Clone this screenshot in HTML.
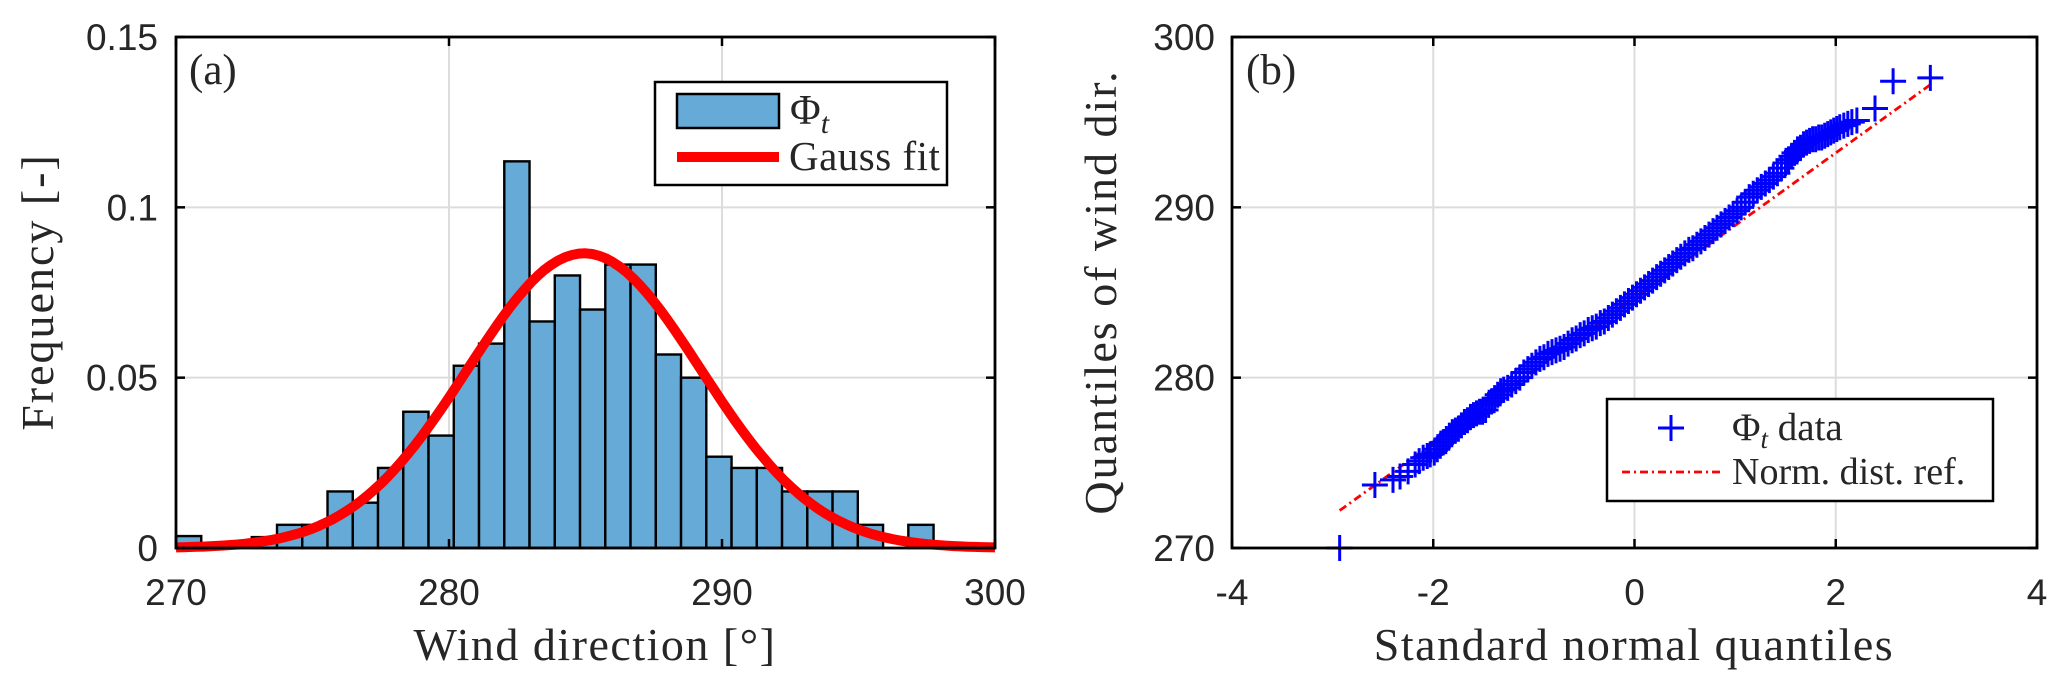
<!DOCTYPE html>
<html><head><meta charset="utf-8"><style>
html,body{margin:0;padding:0;background:#fff}
svg{display:block}
.tick{font-family:"Liberation Sans",Arial,sans-serif;font-size:37px;fill:#262626}
.ser{font-family:"Liberation Serif","DejaVu Serif",serif;fill:#262626}
</style></head><body>
<svg id="fig" width="2067" height="689" viewBox="0 0 2067 689" xmlns="http://www.w3.org/2000/svg">
<g id="pa"></g>
<g id="pb"></g>
</svg>
<script>
// Panel (a) data
const binStart = 270;
const binWidth = 0.925;
const binFreq = [0.0035,0,0,0.0032,0.0068,0.0068,0.0166,0.0133,0.0235,0.040,0.033,0.0535,0.060,0.1135,0.0665,0.080,0.070,0.0832,0.0832,0.0568,0.050,0.0268,0.0235,0.0235,0.0166,0.0166,0.0166,0.0068,0,0.0068];
const gaussMu = 284.95;
const gaussSigma = 4.27;
const gaussPeak = 0.0865;
const xTicksA = [270,280,290,300];
const yTicksA = [0,0.05,0.1,0.15];
const yTickLabelsA = ["0","0.05","0.1","0.15"];
// Panel (b) data
const qqQ = [-2.93,-2.58,-2.40,-2.33,-2.25,-2.18,-2.14,-2.10,-2.06,-2.03,-1.99,-1.96,-1.93,-1.90,-1.87,-1.84,-1.81,-1.78,-1.75,-1.72,-1.69,-1.66,-1.63,-1.60,-1.57,-1.54,-1.51,-1.48,-1.45,-1.42,-1.39,-1.36,-1.33,-1.30,-1.26,-1.22,-1.18,-1.14,-1.10,-1.06,-1.02,-0.98,-0.94,-0.90,-0.86,-0.82,-0.78,-0.74,-0.70,-0.66,-0.62,-0.58,-0.54,-0.50,-0.46,-0.42,-0.38,-0.34,-0.30,-0.26,-0.22,-0.18,-0.14,-0.10,-0.06,-0.02,0.02,0.06,0.10,0.14,0.18,0.22,0.26,0.30,0.34,0.38,0.42,0.46,0.50,0.54,0.58,0.62,0.66,0.70,0.74,0.78,0.82,0.86,0.90,0.94,0.98,1.02,1.06,1.10,1.14,1.18,1.22,1.26,1.30,1.34,1.38,1.42,1.46,1.50,1.53,1.56,1.59,1.62,1.65,1.68,1.71,1.74,1.77,1.80,1.83,1.86,1.89,1.92,1.95,1.98,2.01,2.04,2.08,2.12,2.16,2.21,2.39,2.57,2.94];
const qqV = [270.0,273.7,274.0,274.2,274.5,274.9,275.1,275.3,275.4,275.5,275.6,275.8,276.0,276.2,276.4,276.6,276.8,276.9,277.0,277.2,277.4,277.5,277.7,277.8,277.9,278.0,278.0,278.1,278.4,278.6,278.8,279.0,279.2,279.3,279.4,279.6,279.8,280.0,280.3,280.5,280.7,280.9,281.1,281.2,281.4,281.5,281.6,281.7,281.8,282.0,282.2,282.3,282.5,282.6,282.8,282.9,283.0,283.2,283.3,283.5,283.7,283.9,284.1,284.3,284.5,284.7,284.9,285.1,285.3,285.5,285.7,285.9,286.1,286.3,286.5,286.7,286.9,287.1,287.3,287.5,287.6,287.8,288.0,288.2,288.4,288.6,288.8,289.0,289.2,289.4,289.6,289.8,290.0,290.3,290.6,290.8,291.0,291.2,291.4,291.6,291.8,292.0,292.3,292.6,292.8,293.0,293.2,293.4,293.5,293.7,293.8,293.9,294.0,294.0,294.1,294.1,294.2,294.3,294.4,294.5,294.6,294.7,294.8,294.9,295.0,295.1,295.8,297.4,297.6];
const refQ = [-2.93,2.94];
const refV = [272.2,297.2];
const xTicksB = [-4,-2,0,2,4];
const yTicksB = [270,280,290,300];

const NS="http://www.w3.org/2000/svg";
function mk(parent,tag,attrs,text){const e=document.createElementNS(NS,tag);for(const k in attrs)e.setAttribute(k,attrs[k]);if(text!==undefined)e.textContent=text;parent.appendChild(e);return e;}

// ---------- Panel A ----------
const A={l:176,r:995,t:37,b:548};
const ax=v=>A.l+(v-270)/30*(A.r-A.l);
const ay=v=>A.b-(v/0.15)*(A.b-A.t);
const pa=document.getElementById('pa');
xTicksA.forEach(v=>{const g=mk(pa,'line',{x1:ax(v),x2:ax(v),y1:A.t,y2:A.b,stroke:'#dcdcdc','stroke-width':2});
});
yTicksA.forEach(v=>{const g=mk(pa,'line',{x1:A.l,x2:A.r,y1:ay(v),y2:ay(v),stroke:'#dcdcdc','stroke-width':2});
});
binFreq.forEach((f,i)=>{if(f<=0)return;const x0=ax(binStart+i*binWidth),x1=ax(binStart+(i+1)*binWidth);
const r=mk(pa,'rect',{x:x0,y:ay(f),width:x1-x0,height:ay(0)-ay(f),fill:'#66aad8',stroke:'#000','stroke-width':2.4});
});
let pts=[];for(let v=270;v<=300.001;v+=0.25){pts.push(ax(v).toFixed(1)+','+ay(gaussPeak*Math.exp(-0.5*Math.pow((v-gaussMu)/gaussSigma,2))).toFixed(1));}
const gc=mk(pa,'polyline',{points:pts.join(' '),fill:'none',stroke:'#ff0000','stroke-width':10,'stroke-linejoin':'round'});

const boxA=mk(pa,'rect',{x:A.l,y:A.t,width:A.r-A.l,height:A.b-A.t,fill:'none',stroke:'#000','stroke-width':2.8});

xTicksA.forEach(v=>{mk(pa,'line',{x1:ax(v),x2:ax(v),y1:A.b,y2:A.b-9,stroke:'#000','stroke-width':2.5});mk(pa,'line',{x1:ax(v),x2:ax(v),y1:A.t,y2:A.t+9,stroke:'#000','stroke-width':2.5});
const t=mk(pa,'text',{x:ax(v),y:605,'text-anchor':'middle',class:'tick'},String(v));});
yTicksA.forEach((v,i)=>{mk(pa,'line',{x1:A.l,x2:A.l+9,y1:ay(v),y2:ay(v),stroke:'#000','stroke-width':2.5});mk(pa,'line',{x1:A.r,x2:A.r-9,y1:ay(v),y2:ay(v),stroke:'#000','stroke-width':2.5});
const t=mk(pa,'text',{x:158,y:ay(v)+13,'text-anchor':'end',class:'tick'},yTickLabelsA[i]);});
</script>
<script>
(function(){const pa=document.getElementById('pa');
const NS="http://www.w3.org/2000/svg";
function mk(p,tag,a,txt){const e=document.createElementNS(NS,tag);for(const k in a)e.setAttribute(k,a[k]);if(txt!==undefined)e.textContent=txt;p.appendChild(e);return e;}
const la=mk(pa,'text',{x:189,y:84,class:'ser','font-size':43},'(a)');
const xt=mk(pa,'text',{x:595,y:660,class:'ser','font-size':46,'letter-spacing':'1.5','text-anchor':'middle'},'Wind direction [°]');
const yt=mk(pa,'text',{x:0,y:0,class:'ser','font-size':46,'letter-spacing':'2','text-anchor':'middle',transform:'translate(53,292) rotate(-90)'},'Frequency [-]');
const lg=mk(pa,'g',{});
mk(lg,'rect',{x:655,y:82,width:292,height:103,fill:'#fff',stroke:'#000','stroke-width':2.5});
const p=mk(lg,'rect',{x:677,y:94,width:102,height:34,fill:'#66aad8',stroke:'#000','stroke-width':2.5});
const t1=mk(lg,'text',{x:790,y:124,class:'ser','font-size':42},'Φ');mk(t1,'tspan',{'font-style':'italic','font-size':30,dy:9},'t');
const l=mk(lg,'line',{x1:677,x2:779,y1:157,y2:157,stroke:'#ff0000','stroke-width':10});
mk(lg,'text',{x:789,y:170,class:'ser','font-size':41,'letter-spacing':'0.5'},'Gauss fit');
})();
</script>
<script>
(function(){
const NS="http://www.w3.org/2000/svg";
function mk(p,tag,a,txt){const e=document.createElementNS(NS,tag);for(const k in a)e.setAttribute(k,a[k]);if(txt!==undefined)e.textContent=txt;p.appendChild(e);return e;}
const B={l:1232,r:2037,t:37,b:548};
const bx=v=>B.l+(v+4)/8*(B.r-B.l);
const by=v=>B.b-(v-270)/30*(B.b-B.t);
const pb=document.getElementById('pb');
xTicksB.forEach(v=>{const g=mk(pb,'line',{x1:bx(v),x2:bx(v),y1:B.t,y2:B.b,stroke:'#dcdcdc','stroke-width':2});});
yTicksB.forEach(v=>{const g=mk(pb,'line',{x1:B.l,x2:B.r,y1:by(v),y2:by(v),stroke:'#dcdcdc','stroke-width':2});});
const rl=mk(pb,'line',{x1:bx(refQ[0]),y1:by(refV[0]),x2:bx(refQ[1]),y2:by(refV[1]),stroke:'#ff0000','stroke-width':2.8,'stroke-dasharray':'8 4 2 4'});

qqQ.forEach((q,i)=>{const x=bx(q),y=by(qqV[i]);
const m=mk(pb,'path',{d:`M${x-13},${y}H${x+13}M${x},${y-13}V${y+13}`,stroke:'#0000ff','stroke-width':3,fill:'none'});
});
const box=mk(pb,'rect',{x:B.l,y:B.t,width:B.r-B.l,height:B.b-B.t,fill:'none',stroke:'#000','stroke-width':2.8});

xTicksB.forEach(v=>{mk(pb,'line',{x1:bx(v),x2:bx(v),y1:B.b,y2:B.b-9,stroke:'#000','stroke-width':2.5});mk(pb,'line',{x1:bx(v),x2:bx(v),y1:B.t,y2:B.t+9,stroke:'#000','stroke-width':2.5});
const t=mk(pb,'text',{x:bx(v),y:605,'text-anchor':'middle',class:'tick'},String(v));});
yTicksB.forEach(v=>{mk(pb,'line',{x1:B.l,x2:B.l+9,y1:by(v),y2:by(v),stroke:'#000','stroke-width':2.5});mk(pb,'line',{x1:B.r,x2:B.r-9,y1:by(v),y2:by(v),stroke:'#000','stroke-width':2.5});
const t=mk(pb,'text',{x:1215,y:by(v)+13,'text-anchor':'end',class:'tick'},String(v));});
const lb=mk(pb,'text',{x:1246,y:84,class:'ser','font-size':43},'(b)');
const xt=mk(pb,'text',{x:1634,y:660,class:'ser','font-size':46,'letter-spacing':'1.5','text-anchor':'middle'},'Standard normal quantiles');
const yt=mk(pb,'text',{x:0,y:0,class:'ser','font-size':46,'letter-spacing':'2','text-anchor':'middle',transform:'translate(1116,292) rotate(-90)'},'Quantiles of wind dir.');
const lg=mk(pb,'g',{});
mk(lg,'rect',{x:1607,y:399,width:386,height:102,fill:'#fff',stroke:'#000','stroke-width':2.5});
const pm=mk(lg,'path',{d:'M1658,428H1684M1671,415V441',stroke:'#0000ff','stroke-width':3});
const t1=mk(lg,'text',{x:1732,y:440,class:'ser','font-size':39},'Φ');mk(t1,'tspan',{'font-style':'italic','font-size':27,dy:8},'t');mk(t1,'tspan',{dy:-8},' data');
const ll=mk(lg,'line',{x1:1622,x2:1722,y1:472,y2:472,stroke:'#ff0000','stroke-width':2.8,'stroke-dasharray':'8 4 2 4'});
mk(lg,'text',{x:1732,y:484,class:'ser','font-size':38},'Norm. dist. ref.');
})();
</script>
</body></html>
